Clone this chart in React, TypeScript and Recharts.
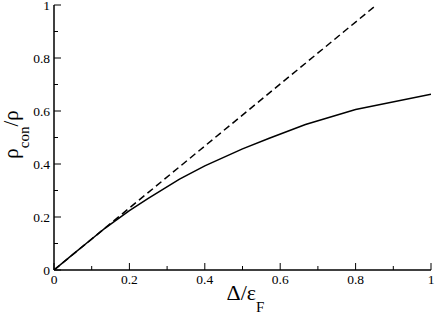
import React from 'react';
import { LineChart, Line, XAxis, YAxis, Label } from 'recharts';

// Solid curve: rho_con / rho versus Delta / eps_F
const deltaValues = [0, 0.05, 0.1, 0.133, 0.2, 0.25, 0.333, 0.4, 0.5, 0.571, 0.667, 0.8, 1.0];
const rhoConValues = [0, 0.059, 0.117, 0.155, 0.224, 0.27, 0.343, 0.393, 0.457, 0.497, 0.549, 0.606, 0.663];

// Dashed linear reference line
const linearDelta = [0, 0.855];
const linearRho = [0, 1.0];

const majorTicks = [0, 0.2, 0.4, 0.6, 0.8, 1];
const allTicks = [0, 0.1, 0.2, 0.3, 0.4, 0.5, 0.6, 0.7, 0.8, 0.9, 1];
const tickLabels = ['0', '0.2', '0.4', '0.6', '0.8', '1'];

const curveData = deltaValues.map((d, i) => ({ x: d, y: rhoConValues[i] }));
const lineData = linearDelta.map((d, i) => ({ x: d, y: linearRho[i] }));

const FONT = "'Liberation Serif', 'DejaVu Serif', 'Times New Roman', serif";
const MAJOR = 7;
const MINOR = 4;
const TICK_FONT = 13.5;

const labelFor = (v: number) => {
  const idx = majorTicks.findIndex((m) => Math.abs(m - v) < 1e-6);
  return idx >= 0 ? tickLabels[idx] : null;
};

const BottomTick = (props: any) => {
  const { x, y, payload } = props;
  const lab = labelFor(payload.value);
  const len = lab !== null ? MAJOR : MINOR;
  return (
    <g>
      <line x1={x} x2={x} y1={y} y2={y - len} stroke="#000" strokeWidth={1} />
      {lab !== null && (
        <text x={x} y={y + 14} textAnchor="middle" fontFamily={FONT} fontSize={TICK_FONT} fill="#000">
          {lab}
        </text>
      )}
    </g>
  );
};

const TopTick = (props: any) => {
  const { x, y, payload } = props;
  const len = labelFor(payload.value) !== null ? MAJOR : MINOR;
  return <line x1={x} x2={x} y1={y} y2={y + len} stroke="#000" strokeWidth={1} />;
};

const LeftTick = (props: any) => {
  const { x, y, payload } = props;
  const lab = labelFor(payload.value);
  const len = lab !== null ? MAJOR : MINOR;
  return (
    <g>
      <line x1={x} x2={x + len} y1={y} y2={y} stroke="#000" strokeWidth={1} />
      {lab !== null && (
        <text x={x - 4} y={y + 4.5} textAnchor="end" fontFamily={FONT} fontSize={TICK_FONT} fill="#000">
          {lab}
        </text>
      )}
    </g>
  );
};

const RightTick = (props: any) => {
  const { x, y, payload } = props;
  const len = labelFor(payload.value) !== null ? MAJOR : MINOR;
  return <line x1={x} x2={x - len} y1={y} y2={y} stroke="#000" strokeWidth={1} />;
};

const XTitle = (props: any) => {
  const vb = props.viewBox;
  const cx = vb.x + vb.width / 2 + 3;
  const y = vb.y + 30;
  return (
    <text x={cx} y={y} textAnchor="middle" fontFamily={FONT} fontSize={22} fill="#000">
      Δ/ε
      <tspan fontSize={15} dy={12}>F</tspan>
    </text>
  );
};

const YTitle = (props: any) => {
  const vb = props.viewBox;
  const cx = 18;
  const cy = vb.y + vb.height / 2 - 3;
  return (
    <text
      x={cx}
      y={cy}
      transform={`rotate(-90, ${cx}, ${cy})`}
      textAnchor="middle"
      fontFamily={FONT}
      fontSize={21}
      fill="#000"
    >
      ρ
      <tspan fontSize={15} dy={11}>con</tspan>
      <tspan dy={-11}>/ρ</tspan>
    </text>
  );
};

export default function App() {
  return (
    <div style={{ position: 'absolute', left: 0, top: 0, background: '#fff' }}>
      <LineChart width={436} height={316} margin={{ top: 5, right: 5, bottom: 0, left: 0 }}>
        <XAxis
          xAxisId={0}
          dataKey="x"
          type="number"
          domain={[0, 1]}
          ticks={allTicks}
          interval={0}
          allowDataOverflow
          height={46}
          tickSize={0}
          tickMargin={0}
          tickLine={false}
          axisLine={{ stroke: '#000', strokeWidth: 1.5 }}
          tick={<BottomTick />}
        >
          <Label content={<XTitle />} />
        </XAxis>
        <XAxis
          xAxisId="top"
          orientation="top"
          dataKey="x"
          type="number"
          domain={[0, 1]}
          ticks={allTicks}
          interval={0}
          height={0}
          tickSize={0}
          tickMargin={0}
          tickLine={false}
          axisLine={{ stroke: '#000', strokeWidth: 1.5 }}
          tick={<TopTick />}
        />
        <YAxis
          yAxisId={0}
          type="number"
          domain={[0, 1]}
          ticks={allTicks}
          interval={0}
          allowDataOverflow
          width={54}
          tickSize={0}
          tickMargin={0}
          tickLine={false}
          axisLine={{ stroke: '#000', strokeWidth: 1.5 }}
          tick={<LeftTick />}
        >
          <Label content={<YTitle />} />
        </YAxis>
        <YAxis
          yAxisId="right"
          orientation="right"
          type="number"
          domain={[0, 1]}
          ticks={allTicks}
          interval={0}
          width={0}
          tickSize={0}
          tickMargin={0}
          tickLine={false}
          axisLine={{ stroke: '#000', strokeWidth: 1.5 }}
          tick={<RightTick />}
        />
        <Line
          data={lineData}
          dataKey="y"
          type="linear"
          stroke="#000"
          strokeWidth={1.5}
          strokeDasharray="7 4"
          dot={false}
          isAnimationActive={false}
        />
        <Line
          data={curveData}
          dataKey="y"
          type="linear"
          stroke="#000"
          strokeWidth={1.5}
          dot={false}
          isAnimationActive={false}
        />
      </LineChart>
    </div>
  );
}
